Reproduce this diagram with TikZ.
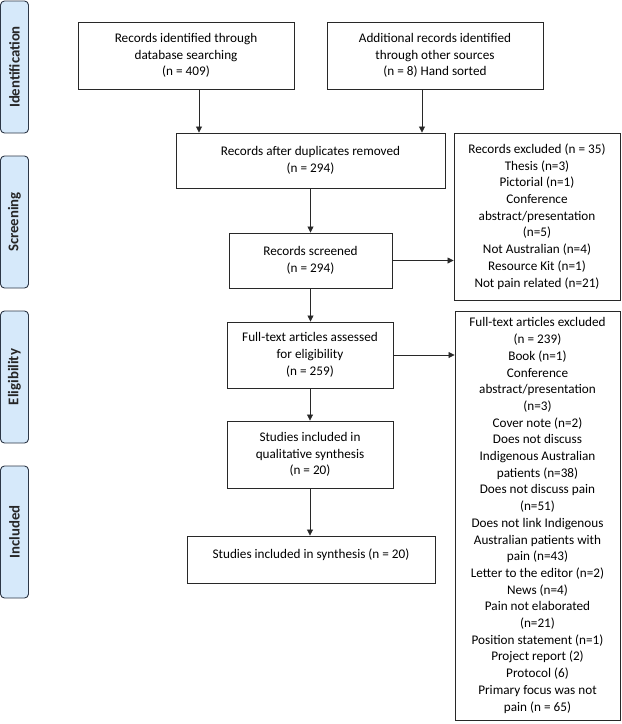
\documentclass[tikz,border=0pt]{standalone}
\usepackage{fontspec}
\setmainfont{Carlito}
\usetikzlibrary{arrows.meta,calc}
\definecolor{sidefill}{RGB}{214,233,250}
\definecolor{sidedraw}{RGB}{45,55,70}
\definecolor{boxdraw}{RGB}{40,40,40}
\begin{document}
\begin{tikzpicture}[x=1pt,y=-1pt,
  box/.style={draw=boxdraw,line width=0.9pt,align=center,inner sep=0pt,
    font=\fontsize{13.2}{16.7}\selectfont},
  side/.style={draw=sidedraw,fill=sidefill,line width=0.9pt,rounded corners=4pt,
    rotate=90,minimum height=28pt,inner sep=0pt,text=black!85,
    font=\fontsize{14.8}{16}\selectfont\bfseries},
  arr/.style={draw=boxdraw,line width=0.8pt,-{Triangle[length=6pt,width=6pt]}}]
\useasboundingbox (0,0) rectangle (622,724);
% side labels
\node[side,minimum width=132pt] (sid) at (14.5,67) {Identification};
\node[side,minimum width=132pt] (ssc) at (14.5,222) {Screening};
\node[side,minimum width=132pt] (sel) at (14.5,377) {Eligibility};
\node[side,minimum width=132pt] (sin) at (14.5,532) {Included};
% boxes
\node[box,minimum width=216pt,minimum height=67pt] (b1) at (186,55.5)
  {Records identified through\\database searching\\(n = 409)};
\node[box,minimum width=216pt,minimum height=67pt] (b2) at (435,55.5)
  {Additional records identified\\through other sources\\(n = 8) Hand sorted};
\node[box,minimum width=269pt,minimum height=55pt] (b3) at (310.5,160.5)
  {Records after duplicates removed\\(n = 294)};
\node[box,minimum width=163pt,minimum height=55pt] (scr) at (310.5,260.5)
  {Records screened\\(n = 294)};
\node[box,minimum width=166pt,minimum height=66pt] (ft) at (310,355)
  {Full-text articles assessed\\for eligibility\\(n = 259)};
\node[box,minimum width=166pt,minimum height=67pt] (qual) at (310,454.5)
  {Studies included in\\qualitative synthesis\\(n = 20)};
\node[box,minimum width=248pt,minimum height=47pt] (fin) at (311,559.5) {};
\node[font=\fontsize{13.2}{16.5}\selectfont,inner sep=0pt] (fint) at (311,555)
  {Studies included in synthesis (n = 20)};
\node[box,minimum width=166pt,minimum height=167pt] (ex1) at (537,216.5)
  {Records excluded (n = 35)\\Thesis (n=3)\\Pictorial (n=1)\\Conference\\abstract/presentation\\(n=5)\\Not Australian (n=4)\\Resource Kit (n=1)\\Not pain related (n=21)};
\node[box,minimum width=165pt,minimum height=409pt] (ex2) at (537.5,515.5)
  {Full-text articles excluded\\(n = 239)\\Book (n=1)\\Conference\\abstract/presentation\\(n=3)\\Cover note (n=2)\\Does not discuss\\Indigenous Australian\\patients (n=38)\\Does not discuss pain\\(n=51)\\Does not link Indigenous\\Australian patients with\\pain (n=43)\\Letter to the editor (n=2)\\News (n=4)\\Pain not elaborated\\(n=21)\\Position statement (n=1)\\Project report (2)\\Protocol (6)\\Primary focus was not\\pain (n = 65)};
% connectors
\draw[arr] ([xshift=13pt]b1.south) -- ([xshift=13pt]b1.south |- b3.north);
\draw[arr] ([xshift=-13pt]b2.south) -- ([xshift=-13pt]b2.south |- b3.north);
\draw[arr] (b3.south) -- (b3.south |- scr.north);
\draw[arr] (scr.south) -- (scr.south |- ft.north);
\draw[arr] (ft.south) -- (ft.south |- qual.north);
\draw[arr] (qual.south) -- (qual.south |- fin.north);
\draw[arr] (scr.east) -- (scr.east -| ex1.west);
\draw[arr] (ft.east) -- (ft.east -| ex2.west);
\end{tikzpicture}
\end{document}
